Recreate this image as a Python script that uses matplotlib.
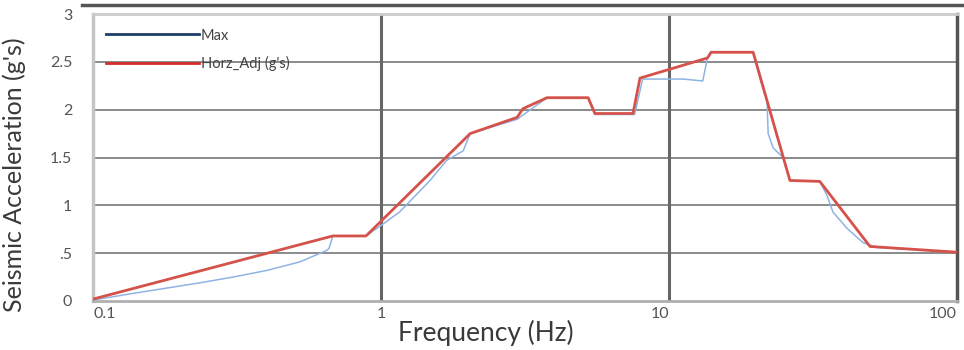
import numpy as np
import matplotlib
matplotlib.use('Agg')
import matplotlib.pyplot as plt
from matplotlib.lines import Line2D

# Horz_Adj (g's) envelope
adj_freq = [0.1, 0.68, 0.887, 2.04, 2.97, 3.11, 3.77, 5.24, 5.53, 7.5, 7.93,
            13.6, 14.0, 19.6, 26.3, 33.4, 49.9, 100]
adj_acc = [0.02, 0.68, 0.68, 1.75, 1.92, 2.01, 2.125, 2.125, 1.96, 1.96, 2.33,
           2.54, 2.6, 2.6, 1.26, 1.25, 0.57, 0.51]

# Max curve
max_freq = [0.1, 0.138, 0.235, 0.306, 0.402, 0.524, 0.649, 0.66, 0.68, 0.887,
            1.0, 1.16, 1.48, 1.69, 1.93, 2.04, 2.97, 3.56, 3.77, 5.24, 5.53,
            7.6, 8.1, 11.2, 13.1, 13.6, 14.0, 19.6, 20.7, 21.9, 22.1, 23.0,
            24.9, 26.3, 33.4, 35.4, 37.1, 41.5, 47.2, 52.7, 100]
max_acc = [0.01, 0.08, 0.19, 0.25, 0.32, 0.41, 0.53, 0.55, 0.68, 0.68,
           0.79, 0.93, 1.26, 1.47, 1.57, 1.75, 1.90, 2.07, 2.125, 2.125, 1.95,
           1.95, 2.32, 2.32, 2.30, 2.54, 2.6, 2.6, 2.33, 2.09, 1.75, 1.60,
           1.50, 1.26, 1.25, 1.10, 0.93, 0.76, 0.61, 0.56, 0.51]

yticks = [0, 0.5, 1, 1.5, 2, 2.5, 3]
ytick_labels = ['0', '.5', '1', '1.5', '2', '2.5', '3']
xticks = [0.1, 1, 10, 100]
xtick_labels = ['0.1', '1', '10', '100']

plt.rcParams['font.family'] = ['Lato', 'DejaVu Sans']

fig = plt.figure(figsize=(9.64, 3.5), dpi=100)
ax = fig.add_axes([0.0965, 0.14, 0.8962, 0.82])

ax.plot(max_freq, max_acc, color='#8fb4e3', lw=1.1, zorder=3)
ax.plot(adj_freq, adj_acc, color='#d5524b', lw=2.0, zorder=4)

ax.set_xscale('log')
ax.set_xlim(0.1, 100)
ax.set_ylim(0, 3)

ax.set_yticks(yticks)
ax.set_yticklabels(ytick_labels, fontsize=11.5, color='#555555')
ax.set_xticks(xticks)
ax.set_xticklabels(xtick_labels, fontsize=11.5, color='#555555')
ax.minorticks_off()
ax.tick_params(axis='y', length=0, pad=15)
ax.tick_params(axis='x', length=0, pad=4)
for lab, ha in zip(ax.get_xticklabels(), ['left', 'center', 'right', 'right']):
    lab.set_ha(ha)

for y in yticks[1:-1]:
    ax.axhline(y, color='#8a8a8a', lw=1.4, zorder=1)
for x in [1, 10]:
    ax.axvline(x, color='#666666', lw=2.2, zorder=1)

ax.spines['left'].set_color('#c4c4c4')
ax.spines['left'].set_linewidth(2.5)
ax.spines['bottom'].set_color('#b0b0b0')
ax.spines['bottom'].set_linewidth(2)
ax.spines['top'].set_color('#cccccc')
ax.spines['top'].set_linewidth(2)
ax.spines['right'].set_color('#555555')
ax.spines['right'].set_linewidth(2.5)

ax.set_xlabel('Frequency (Hz)', fontsize=19, color='#3a3a3a')
ax.xaxis.set_label_coords(0.455, -0.065)
ax.xaxis.label.set_va('top')
ax.set_ylabel("Seismic Acceleration (g's)", fontsize=18, color='#3a3a3a')
ax.yaxis.set_label_coords(-0.078, 0.44)

handles = [Line2D([], [], color='#1d3f66', lw=2),
           Line2D([], [], color='#d42b2b', lw=2)]
ax.legend(handles, ['Max', "Horz_Adj (g's)"], loc='upper left',
          bbox_to_anchor=(0.0, 0.995), frameon=False, fontsize=10.5,
          handlelength=6.4, handletextpad=0.1, labelspacing=0.95,
          labelcolor='#444444')

# heavy rule along the top of the panel
fig.add_artist(Line2D([82 / 964, 1.0], [1 - 5 / 350, 1 - 5 / 350],
                      color='#555555', lw=2.5))

fig.savefig('out.png', dpi=100)
